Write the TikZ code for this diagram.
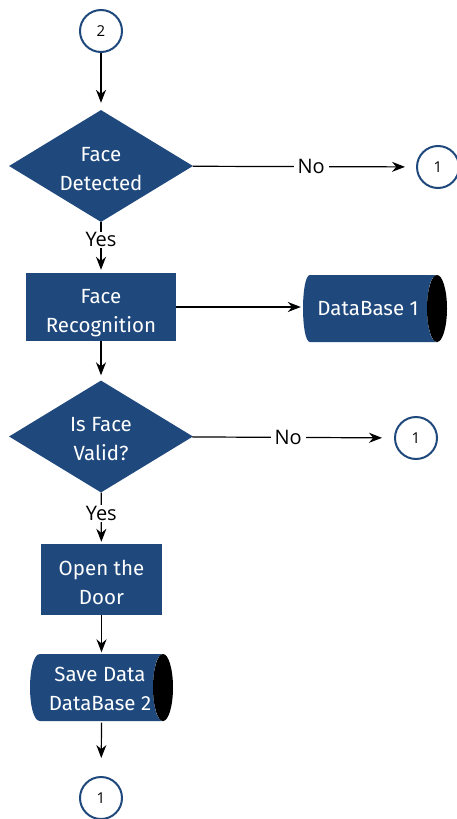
\documentclass[tikz,border=0pt]{standalone}
\usepackage{fontspec}
\setmainfont{Fira Sans}
\newfontfamily\lblfont{Open Sans}
\usetikzlibrary{shapes.geometric,arrows.meta}
\definecolor{fcblue}{HTML}{1F497D}
\newcommand\fcnodefont{\fontsize{20.5}{29}\selectfont}
\newcommand\fclblfont{\lblfont\fontsize{20}{22}\selectfont}
\newcommand\fccircfont{\lblfont\fontsize{15}{18}\selectfont}
\begin{document}
\begin{tikzpicture}[x=1pt,y=-1pt,
  conn/.style={line width=1.2pt,-{Stealth[length=13pt,width=10pt]}},
  dec/.style={diamond,fill=fcblue,text=white,inner sep=0pt,minimum width=184pt,minimum height=112pt,aspect=1.64,align=center,font=\fcnodefont},
  proc/.style={rectangle,fill=fcblue,text=white,inner sep=0pt,align=center,font=\fcnodefont},
  dbtext/.style={rectangle,text=white,inner sep=0pt,align=center,font=\fcnodefont},
  dbfill/.style={fill=fcblue},
  lens/.style={fill=black},
  conncirc/.style={circle,draw=fcblue,line width=2pt,fill=white,minimum size=42pt,inner sep=0pt,font=\fccircfont},
  lbl/.style={fill=white,inner xsep=4pt,inner ysep=1pt,font=\fclblfont,text=black}
]
\useasboundingbox (0,0) rectangle (456,819);
\fill[white] (0,0) rectangle (456,819);

\node[conncirc] (c2) at (101,31) {2};
\node[dec] (d1) at (101,166) {};
\node[text=white,align=center,font=\fcnodefont] (d1t) at (101,169) {Face\\Detected};
\node[conncirc] (c1a) at (438,167) {1};
\node[proc,minimum width=150pt,minimum height=68pt] (r1) at (101,307) {};
\node[text=white,align=center,font=\fcnodefont] (r1t) at (101,313.5) {Face\\Recognition};

% database 1 shape
\fill[dbfill] (310,275) -- (437,275) .. controls (423.7,275) and (423.7,342) .. (437,342)
  -- (310,342) .. controls (300.7,342) and (300.7,275) .. (310,275) -- cycle;
\fill[lens] (437,308.5) ellipse [x radius=10, y radius=33.5];
\node[dbtext,minimum width=134pt,minimum height=67pt] (db1) at (368,308.5) {DataBase 1};

\node[dec] (d2) at (101,436.5) {};
\node[text=white,align=center,font=\fcnodefont] (d2t) at (101,439) {Is Face\\Valid?};
\node[conncirc] (c1b) at (416,438) {1};
\node[proc,minimum width=121pt,minimum height=71pt] (r2) at (101.5,579.5) {};
\node[text=white,align=center,font=\fcnodefont] (r2t) at (101.5,582) {Open the\\Door};

% database 2 shape
\fill[dbfill] (40,654) -- (163,654) .. controls (149.7,654) and (149.7,721) .. (163,721)
  -- (40,721) .. controls (26.7,721) and (26.7,654) .. (40,654) -- cycle;
\fill[lens] (163,687.5) ellipse [x radius=10, y radius=33.5];
\node[dbtext,minimum width=142pt,minimum height=67pt] (db2) at (100,689) {Save Data\\DataBase 2};

\node[conncirc] (c1c) at (101,798) {1};

% edges
\draw[conn,shorten >=7pt] (c2) -- (d1);
\draw[conn,shorten >=11pt] (d1) -- node[lbl,pos=0.53]{No} (c1a);
\draw[conn,shorten >=3pt] (d1) -- node[lbl,pos=0.35]{Yes} (r1);
\draw[conn] (r1.east) -- (r1.east -| db1.west);
\draw[conn,shorten >=5pt] (r1) -- (d2);
\draw[conn,shorten >=12pt] (d2) -- node[lbl,pos=0.475]{No} (c1b);
\draw[conn,shorten >=2pt] (d2) -- node[lbl,pos=0.41]{Yes} (r2);
\draw[conn,shorten >=3pt] (r2.south) -- (r2.south |- db2.north);
\draw[conn,shorten >=18pt] (db2.south -| r2.south) -- (c1c);
\end{tikzpicture}
\end{document}
